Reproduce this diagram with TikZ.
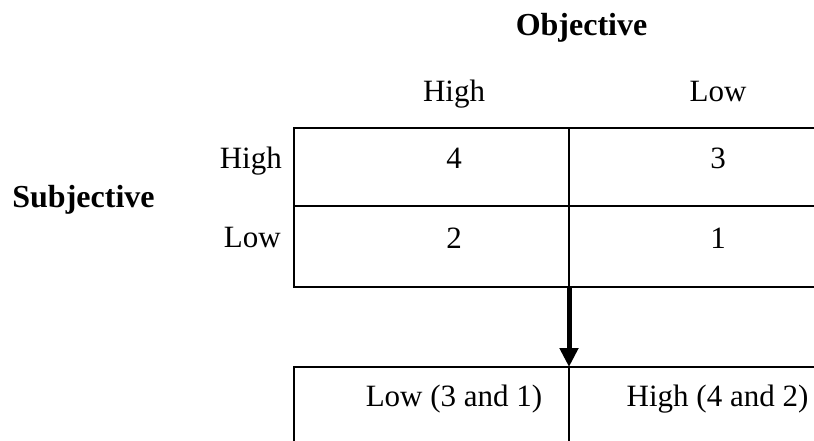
\documentclass[tikz,border=0pt]{standalone}
\usepackage{fontspec}
\setmainfont{Liberation Serif}
\usetikzlibrary{arrows.meta}
\begin{document}
\begin{tikzpicture}[x=1pt,y=-1pt,
  txt/.style={inner sep=0pt,anchor=base,font=\fontsize{31}{37}\selectfont},
  hdr/.style={inner sep=0pt,anchor=base,font=\fontsize{32}{38}\selectfont\bfseries},
  rowlab/.style={inner sep=0pt,anchor=base east,font=\fontsize{31}{37}\selectfont},
  grid/.style={line width=2pt},
  bigarrow/.style={line width=5pt,-{Triangle[width=18pt,length=19pt]}}]
\useasboundingbox (0,0) rectangle (814,441);
\clip (0,0) rectangle (814,441);
% texts
\node[hdr] (obj) at (581.5,36) {Objective};
\node[txt] (colhigh) at (454,102) {High};
\node[txt] (collow) at (718,102) {Low};
\node[rowlab] (rowhigh) at (282,168) {High};
\node[rowlab] (rowlow) at (281,247) {Low};
\node[hdr] (subj) at (83.5,207) {Subjective};
\node[txt] (c4) at (454,168) {4};
\node[txt] (c3) at (718,168) {3};
\node[txt] (c2) at (454,248) {2};
\node[txt] (c1) at (718,248) {1};
\node[txt] (reslow) at (454,406) {Low (3 and 1)};
\node[txt] (reshigh) at (717.5,406) {High (4 and 2)};
% upper table
\draw[grid] (820,128) -- (294,128) -- (294,287) -- (820,287);
\draw[grid] (294,206) -- (820,206);
\draw[grid] (569,128) -- (569,287);
% lower table
\draw[grid] (294,450) -- (294,367) -- (820,367);
\draw[grid] (569,367) -- (569,450);
% arrow
\coordinate (from) at (569,287);
\coordinate (to) at (569,367);
\draw[bigarrow] (from) -- (to);
\end{tikzpicture}
\end{document}
